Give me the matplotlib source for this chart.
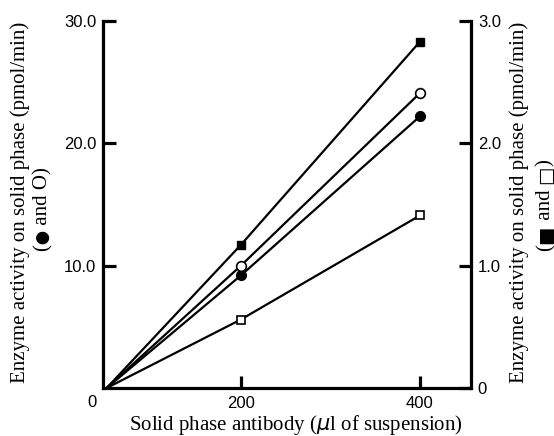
import matplotlib
matplotlib.use("Agg")
import matplotlib.pyplot as plt
from matplotlib.transforms import IdentityTransform

# antibody volume (ul of suspension)
volume = [50, 200, 400]
# left axis series (pmol/min)
filled_circle = [0, 9.2, 22.2]
open_circle = [0, 10.0, 24.1]
# right axis series (pmol/min)
filled_square = [0, 1.17, 2.83]
open_square = [0, 0.56, 1.41]

left_ticks = [10, 20, 30]
left_labels = ["10.0", "20.0", "30.0"]
right_ticks = [0, 1, 2, 3]
right_labels = ["0", "1.0", "2.0", "3.0"]
x_ticks = [200, 400]

num_font = "Liberation Sans"
serif = ["Liberation Serif", "DejaVu Sans"]
sym = ["DejaVu Sans"]

fig = plt.figure(figsize=(5.54, 4.36), dpi=100)
ax = fig.add_axes([0.186, 0.110, 0.664, 0.842])
ax2 = ax.twinx()

ax.plot(volume, filled_circle, color="black", lw=1.6, marker="o", ms=7,
        mfc="black", mec="black", markevery=[1, 2], clip_on=False, zorder=3)
ax.plot(volume, open_circle, color="black", lw=1.6, marker="o", ms=7,
        mfc="white", mec="black", mew=1.2, markevery=[1, 2], clip_on=False, zorder=4)
ax2.plot(volume, filled_square, color="black", lw=1.6, marker="s", ms=6,
         mfc="black", mec="black", markevery=[1, 2], clip_on=False, zorder=3)
ax2.plot(volume, open_square, color="black", lw=1.6, marker="s", ms=6,
         mfc="white", mec="black", mew=1.2, markevery=[1, 2], clip_on=False, zorder=3)

ax.set_xlim(46, 457)
ax.set_ylim(0, 30)
ax2.set_ylim(0, 3)

for a in (ax, ax2):
    a.spines["top"].set_visible(False)
    for s in a.spines.values():
        s.set_linewidth(2.3)
ax.spines["right"].set_visible(False)
ax2.spines["left"].set_visible(False)
ax2.spines["bottom"].set_visible(False)

ax.set_xticks(x_ticks)
ax.set_xticklabels([str(v) for v in x_ticks], family=num_font, fontsize=12)
ax.set_yticks(left_ticks)
ax.set_yticklabels(left_labels, family=num_font, fontsize=12)
ax2.set_yticks(right_ticks)
ax2.set_yticklabels(right_labels, family=num_font, fontsize=12)

ax.tick_params(axis="both", direction="in", length=9, width=2.3, pad=6)
ax.tick_params(axis="y", pad=5)
ax2.tick_params(axis="y", direction="in", length=9, width=2.3, pad=5)

# shared origin label
ax.text(-0.03, -0.04, "0", transform=ax.transAxes, ha="center", va="center",
        family=num_font, fontsize=12)

fig.text(0.535, 0.026, r"Solid phase antibody ($\mu$l of suspension)", ha="center",
         va="center", family=serif, fontsize=15)
fig.text(0.036, 0.535, "Enzyme activity on solid phase (pmol/min)", rotation=90,
         ha="center", va="center", family=serif, fontsize=15)
fig.text(0.937, 0.535, "Enzyme activity on solid phase (pmol/min)", rotation=90,
         ha="center", va="center", family=serif, fontsize=15)


def vertical_line(x, yc, pieces):
    # rotated line made of pieces (text, family, size) so the symbols can be sized
    r = fig.canvas.get_renderer()
    px = x * fig.bbox.width
    texts = [fig.text(0, 0, t, rotation=90, ha="center", va="bottom", family=fam,
                      fontsize=size, transform=IdentityTransform())
             for t, fam, size in pieces]
    heights = [t.get_window_extent(r).height for t in texts]
    y = yc * fig.bbox.height - sum(heights) / 2
    for t, h in zip(texts, heights):
        t.set_position((px, y))
        y += h


vertical_line(0.078, 0.52, [("(", serif, 15), ("\u2B24", sym, 9),
                             (" and O)", serif, 15)])
vertical_line(0.985, 0.53, [("(", serif, 15), ("\u25A0", sym, 14),
                             (" and ", serif, 15), ("\u25A1", sym, 14),
                             (")", serif, 15)])

fig.savefig("out.png", dpi=100)
